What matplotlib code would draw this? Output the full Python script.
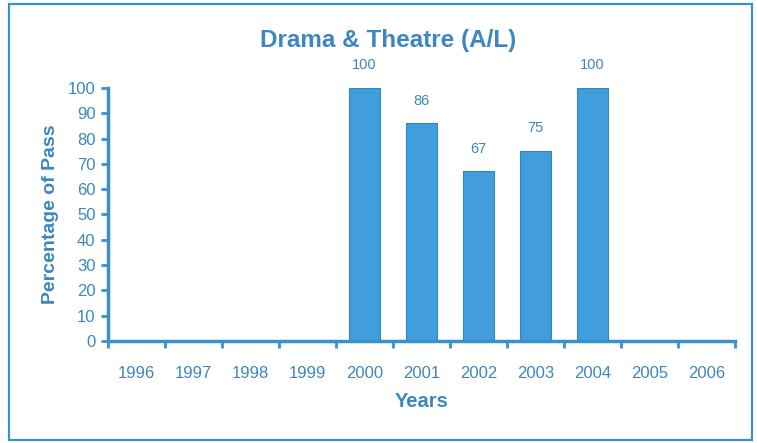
import numpy as np
import matplotlib.pyplot as plt
from matplotlib.patches import Rectangle

years = ['1996', '1997', '1998', '1999', '2000', '2001',
         '2002', '2003', '2004', '2005', '2006']
pass_pct = [0, 0, 0, 0, 100, 86, 67, 75, 100, 0, 0]
yticks = list(range(0, 101, 10))

blue = '#3a8fcf'
text_blue = '#3d86c0'
bar_blue = '#419ddb'

plt.rcParams['font.family'] = ['Liberation Sans', 'DejaVu Sans']

fig = plt.figure(figsize=(7.57, 4.43), dpi=100)
fig.patches.append(Rectangle((9/757, 3/443), 743/757, 436/443, transform=fig.transFigure,
                             fill=False, edgecolor=blue, linewidth=1.6))

ax = fig.add_axes([108/757, 1 - 341/443, 627/757, 253/443])
x = np.arange(len(years))
vals = np.array(pass_pct)
shown = vals > 0
ax.bar(x[shown], vals[shown], width=0.53, color=bar_blue, edgecolor='#2f86c4', linewidth=0.8)
for xi, v in zip(x[shown], vals[shown]):
    ax.text(xi, v + 9, str(v), ha='center', va='center', color=text_blue, fontsize=10.5)

ax.set_xlim(-0.5, len(years) - 0.5)
ax.set_ylim(0, 100)
ax.set_yticks(yticks)
ax.set_yticklabels([str(t) for t in yticks], color=text_blue, fontsize=12)
ax.set_xticks(x)
ax.set_xticklabels(years, color=text_blue, fontsize=12)
ax.set_xticks(np.arange(len(years) + 1) - 0.5, minor=True)
ax.tick_params(axis='x', which='major', length=0, pad=18)
ax.tick_params(axis='x', which='minor', length=5, width=2, color=blue, direction='out')
ax.tick_params(axis='y', length=5, width=2, color=blue, direction='out', pad=4)

for side in ['top', 'right']:
    ax.spines[side].set_visible(False)
for side in ['left', 'bottom']:
    ax.spines[side].set_color(blue)
    ax.spines[side].set_linewidth(2.5)

ax.set_ylabel('Percentage of Pass', color=text_blue, fontsize=14, fontweight='bold', labelpad=6)
ax.set_xlabel('Years', color=text_blue, fontsize=14.5, fontweight='bold', labelpad=8)
fig.text(388/757, 1 - 40/443, 'Drama & Theatre (A/L)', ha='center', va='center',
         color=text_blue, fontsize=17.5, fontweight='bold')

fig.savefig('out.png', dpi=100)
